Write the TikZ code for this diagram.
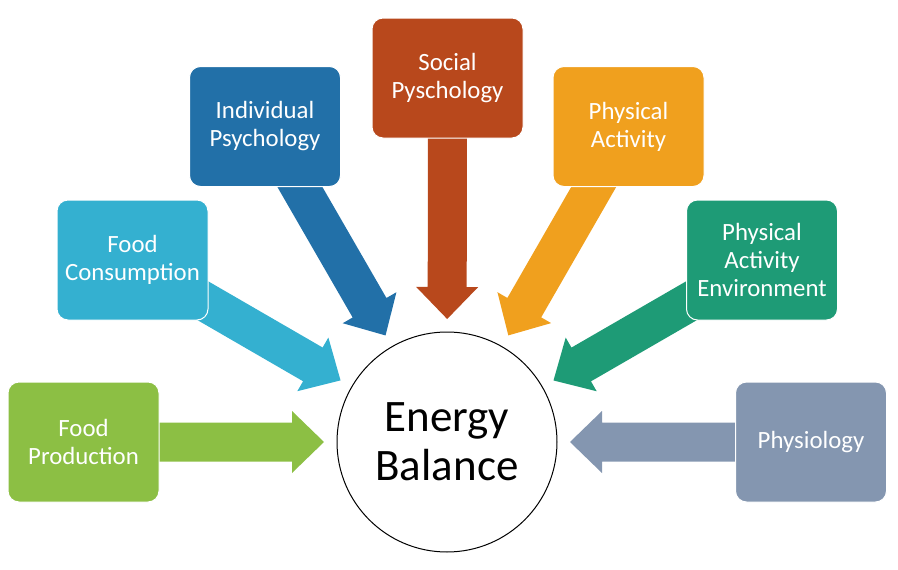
\documentclass[tikz,border=0pt]{standalone}
\usepackage{fontspec}
\setmainfont{Carlito}
\usetikzlibrary{calc,backgrounds}
\definecolor{cGreen}{HTML}{8CBF44}
\definecolor{cCyan}{HTML}{34B0D0}
\definecolor{cBlue}{HTML}{2270A8}
\definecolor{cRust}{HTML}{B8481C}
\definecolor{cOrange}{HTML}{F0A01E}
\definecolor{cTeal}{HTML}{1E9B76}
\definecolor{cGrey}{HTML}{8496B0}
% block arrow from a box towards the hub, drawn from node names
\newcommand\blockarr[2]{%
  \coordinate (T) at ($(eb.center)!123pt!(#1.center)$);
  \coordinate (B) at ($(T)!32pt!(#1.center)$);
  \fill[#2] ($(#1.center)!19.5pt!90:(T)$) -- ($(B)!19.5pt!90:(T)$) -- ($(B)!31pt!90:(T)$)
    -- (T) -- ($(B)!31pt!-90:(T)$) -- ($(B)!19.5pt!-90:(T)$) -- ($(#1.center)!19.5pt!-90:(T)$) -- cycle;
}
\begin{document}
\begin{tikzpicture}[x=1pt,y=-1pt,
  box/.style={rectangle, rounded corners=11pt, minimum width=151pt, minimum height=120pt,
    draw=white, line width=1pt, text=white, align=center, inner sep=0pt,
    font=\fontsize{24.8}{28}\selectfont},
  hub/.style={circle, draw=black, line width=1pt, fill=white, minimum size=220pt,
    align=center, inner sep=0pt, font=\fontsize{45}{49}\selectfont}]
\useasboundingbox (0,0) rectangle (898,570);
\node[hub] (eb) at (447,442) {Energy\\Balance};
\node[box, fill=cGreen] (fp) at (83.5,442) {Food\\Production};
\node[box, fill=cCyan] (fc) at (132.5,260) {Food\\Consumption};
\node[box, fill=cBlue] (ip) at (265,126.5) {Individual\\Psychology};
\node[box, fill=cRust] (sp) at (447.5,78) {Social\\Pyschology};
\node[box, fill=cOrange] (pa) at (628.5,126.5) {Physical\\Activity};
\node[box, fill=cTeal] (pae) at (762,260) {Physical\\Activity\\Environment};
\node[box, fill=cGrey] (ph) at (811,442) {Physiology};
\begin{scope}[on background layer]
  \blockarr{fp}{cGreen}
  \blockarr{fc}{cCyan}
  \blockarr{ip}{cBlue}
  \blockarr{sp}{cRust}
  \blockarr{pa}{cOrange}
  \blockarr{pae}{cTeal}
  \blockarr{ph}{cGrey}
\end{scope}
\end{tikzpicture}
\end{document}
